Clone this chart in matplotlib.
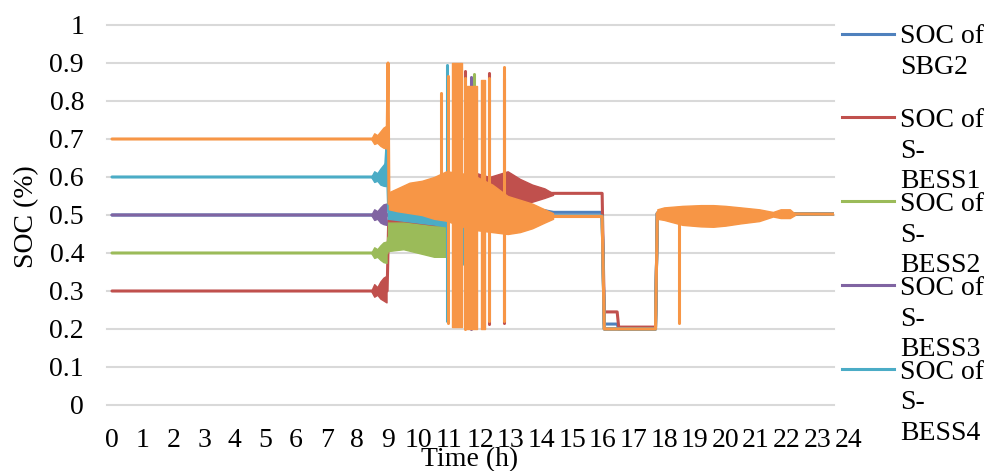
import matplotlib
matplotlib.use("Agg")
import matplotlib.pyplot as plt
from matplotlib.lines import Line2D
from matplotlib.transforms import blended_transform_factory

plt.rcParams['font.family'] = ['Liberation Serif', 'DejaVu Serif']
FONT_SIZE = 20

# ---------------------------------------------------------------- axis data
hours = list(range(25))
y_ticks = [0, 0.1, 0.2, 0.3, 0.4, 0.5, 0.6, 0.7, 0.8, 0.9, 1.0]
y_tick_labels = ['0', '0.1', '0.2', '0.3', '0.4', '0.5', '0.6', '0.7', '0.8', '0.9', '1']
x_label = 'Time (h)'
y_label = 'SOC (%)'

series_names = ['SOC of SBG2', 'SOC of S-BESS1', 'SOC of S-BESS2',
                'SOC of S-BESS3', 'SOC of S-BESS4', 'SOC of S-BESS5']
legend_lines = [['SOC of', 'SBG2'],
                ['SOC of', 'S-', 'BESS1'],
                ['SOC of', 'S-', 'BESS2'],
                ['SOC of', 'S-', 'BESS3'],
                ['SOC of', 'S-', 'BESS4']]
colors = ['#4F81BD', '#C0504D', '#9BBB59', '#8064A2', '#4BACC6', '#F79646']

# ------------------------------------------------------- SOC traces (hours)
# SBG2
sbg2_t = [0, 8.95, 9.02, 14.38, 15.98, 16.05, 16.47, 16.52, 17.72, 17.78, 24]
sbg2_v = [0.5, 0.5, 0.5, 0.507, 0.507, 0.213, 0.213, 0.2, 0.2, 0.505, 0.502]
sbg2_band_t = [12.9, 13.3, 13.7, 14.1, 14.38]
sbg2_band_hi = [0.53, 0.525, 0.52, 0.515, 0.51]
sbg2_band_lo = [0.49, 0.495, 0.5, 0.5, 0.505]

# S-BESS1
bess1_t = [0, 8.97, 9.02, 11.8, 14.38, 15.98, 16.05, 16.47, 16.52, 17.72, 17.78, 24]
bess1_v = [0.3, 0.3, 0.485, 0.55, 0.557, 0.557, 0.245, 0.245, 0.205, 0.205, 0.505, 0.502]
bess1_bump_t = [8.45, 8.55, 8.65, 8.75, 8.85, 8.95]
bess1_bump_hi = [0.3, 0.318, 0.31, 0.325, 0.335, 0.34]
bess1_bump_lo = [0.3, 0.285, 0.29, 0.28, 0.275, 0.27]
bess1_band_t = [9.0, 9.5, 10.0, 10.5, 10.9]
bess1_band_hi = [0.5, 0.5, 0.5, 0.495, 0.49]
bess1_band_lo = [0.47, 0.47, 0.47, 0.47, 0.465]
bess1_band2_t = [11.5, 11.9, 12.3, 12.9, 13.3, 13.7, 14.1, 14.38]
bess1_band2_hi = [0.58, 0.61, 0.6, 0.615, 0.595, 0.58, 0.57, 0.557]
bess1_band2_lo = [0.5, 0.5, 0.51, 0.52, 0.53, 0.535, 0.545, 0.553]
bess1_spike_t = [11.52, 12.3, 12.77]
bess1_spike_hi = [0.878, 0.873, 0.86]
bess1_spike_lo = [0.21, 0.213, 0.216]

# S-BESS2
bess2_t = [0, 8.97, 9.02, 10.9, 11.0, 14.38, 15.98, 16.05, 17.72, 17.78, 24]
bess2_v = [0.4, 0.4, 0.44, 0.43, 0.5, 0.497, 0.497, 0.2, 0.2, 0.505, 0.502]
bess2_bump_t = [8.45, 8.55, 8.65, 8.75, 8.85, 8.95]
bess2_bump_hi = [0.4, 0.415, 0.41, 0.42, 0.428, 0.43]
bess2_bump_lo = [0.4, 0.387, 0.39, 0.382, 0.376, 0.374]
bess2_band_t = [9.0, 9.5, 10.0, 10.5, 10.9]
bess2_band_hi = [0.48, 0.48, 0.475, 0.47, 0.47]
bess2_band_lo = [0.405, 0.41, 0.4, 0.39, 0.39]
bess2_spike_t = [11.2, 11.8]
bess2_spike_hi = [0.895, 0.87]
bess2_spike_lo = [0.21, 0.205]

# S-BESS3
bess3_t = [0, 8.97, 9.02, 14.38, 15.98, 16.05, 17.72, 17.78, 24]
bess3_v = [0.5, 0.5, 0.5, 0.497, 0.497, 0.2, 0.2, 0.505, 0.502]
bess3_bump_t = [8.45, 8.55, 8.65, 8.75, 8.85, 8.95]
bess3_bump_hi = [0.5, 0.515, 0.51, 0.52, 0.528, 0.53]
bess3_bump_lo = [0.5, 0.487, 0.49, 0.48, 0.476, 0.474]
bess3_spike_t = [11.7]
bess3_spike_hi = [0.862]
bess3_spike_lo = [0.2]

# S-BESS4
bess4_t = [0, 8.9, 8.96, 9.02, 10.9, 11.0, 14.38, 15.98, 16.05, 17.72, 17.78, 24]
bess4_v = [0.6, 0.6, 0.68, 0.51, 0.49, 0.5, 0.497, 0.497, 0.2, 0.2, 0.505, 0.502]
bess4_bump_t = [8.45, 8.55, 8.65, 8.75, 8.85, 8.93]
bess4_bump_hi = [0.6, 0.615, 0.61, 0.622, 0.632, 0.64]
bess4_bump_lo = [0.6, 0.587, 0.59, 0.58, 0.577, 0.576]
bess4_band_t = [9.0, 9.5, 10.0, 10.5, 10.9]
bess4_band_hi = [0.525, 0.52, 0.515, 0.51, 0.5]
bess4_band_lo = [0.49, 0.485, 0.48, 0.475, 0.47]
bess4_spike_t = [10.93, 11.42]
bess4_spike_hi = [0.895, 0.5]
bess4_spike_lo = [0.22, 0.37]

# S-BESS5
bess5_t = [0, 8.97, 9.0, 9.03, 14.38, 15.98, 16.05, 17.72, 17.78, 24]
bess5_v = [0.7, 0.7, 0.9, 0.53, 0.496, 0.496, 0.2, 0.2, 0.505, 0.502]
bess5_bump_t = [8.45, 8.55, 8.65, 8.75, 8.85, 8.95]
bess5_bump_hi = [0.7, 0.715, 0.71, 0.72, 0.73, 0.735]
bess5_bump_lo = [0.7, 0.687, 0.69, 0.682, 0.677, 0.675]
bess5_band_t = [9.03, 9.3, 9.7, 10.1, 10.5, 10.9, 11.4, 11.9, 12.4, 12.9, 13.3, 13.7, 14.1, 14.38]
bess5_band_hi = [0.56, 0.57, 0.585, 0.59, 0.6, 0.615, 0.61, 0.6, 0.58, 0.55, 0.54, 0.53, 0.515, 0.505]
bess5_band_lo = [0.515, 0.51, 0.505, 0.5, 0.49, 0.485, 0.47, 0.46, 0.455, 0.45, 0.455, 0.465, 0.48, 0.49]
bess5_band2_t = [17.78, 18.0, 18.6, 19.2, 19.6, 20.0, 20.5, 21.1, 21.55, 21.8, 22.1, 22.27]
bess5_band2_hi = [0.515, 0.52, 0.524, 0.526, 0.526, 0.524, 0.52, 0.515, 0.508, 0.515, 0.515, 0.503]
bess5_band2_lo = [0.49, 0.487, 0.474, 0.47, 0.469, 0.472, 0.478, 0.484, 0.496, 0.492, 0.492, 0.5]
bess5_spike_t = [10.73, 10.95, 11.52, 12.3, 12.77, 18.49]
bess5_spike_hi = [0.82, 0.865, 0.86, 0.86, 0.89, 0.5]
bess5_spike_lo = [0.5, 0.215, 0.2, 0.222, 0.222, 0.215]
bess5_block_t0 = [11.08, 11.55, 12.03]
bess5_block_t1 = [11.42, 11.9, 12.16]
bess5_block_hi = [0.9, 0.84, 0.855]
bess5_block_lo = [0.205, 0.2, 0.2]

# ------------------------------------------------------------------ layout
W, H = 991, 471
fig = plt.figure(figsize=(W / 100, H / 100), dpi=100)


def fx(px):
    return px / W


def fy(py):
    return 1 - py / H


AX_L, AX_R, AX_T, AX_B = 107, 834, 25, 405
ax = fig.add_axes([fx(AX_L), fy(AX_B), (AX_R - AX_L) / W, (AX_B - AX_T) / H])
ax.set_xlim(-0.163, 23.54)
ax.set_ylim(0, 1)
for s in ax.spines.values():
    s.set_visible(False)
ax.set_yticks(y_ticks)
ax.set_yticklabels(y_tick_labels, fontsize=FONT_SIZE)
ax.set_xticks([])
ax.tick_params(axis='y', length=0, pad=16.5)
ax.yaxis.grid(True, color='#D9D9D9', linewidth=1.5)
for gl in ax.get_ygridlines():
    gl.set_clip_on(False)
ax.set_axisbelow(True)

LW = 2.2


def draw_band(t, hi, lo, color):
    ax.fill_between(t, lo, hi, color=color, linewidth=1.0, edgecolor=color, zorder=2)


def draw_spikes(t, hi, lo, color):
    ax.vlines(t, lo, hi, color=color, linewidth=LW, capstyle='round', zorder=2)


def draw_line(t, v, color):
    ax.plot(t, v, color=color, linewidth=LW, solid_joinstyle='round',
            solid_capstyle='round', zorder=2)


# SBG2
c = colors[0]
draw_band(sbg2_band_t, sbg2_band_hi, sbg2_band_lo, c)
draw_line(sbg2_t, sbg2_v, c)

# S-BESS1
c = colors[1]
draw_band(bess1_bump_t, bess1_bump_hi, bess1_bump_lo, c)
draw_band(bess1_band_t, bess1_band_hi, bess1_band_lo, c)
draw_band(bess1_band2_t, bess1_band2_hi, bess1_band2_lo, c)
draw_spikes(bess1_spike_t, bess1_spike_hi, bess1_spike_lo, c)
draw_line(bess1_t, bess1_v, c)

# S-BESS2
c = colors[2]
draw_band(bess2_bump_t, bess2_bump_hi, bess2_bump_lo, c)
draw_band(bess2_band_t, bess2_band_hi, bess2_band_lo, c)
draw_spikes(bess2_spike_t, bess2_spike_hi, bess2_spike_lo, c)
draw_line(bess2_t, bess2_v, c)

# S-BESS3
c = colors[3]
draw_band(bess3_bump_t, bess3_bump_hi, bess3_bump_lo, c)
draw_spikes(bess3_spike_t, bess3_spike_hi, bess3_spike_lo, c)
draw_line(bess3_t, bess3_v, c)

# S-BESS4
c = colors[4]
draw_band(bess4_bump_t, bess4_bump_hi, bess4_bump_lo, c)
draw_band(bess4_band_t, bess4_band_hi, bess4_band_lo, c)
draw_spikes(bess4_spike_t, bess4_spike_hi, bess4_spike_lo, c)
draw_line(bess4_t, bess4_v, c)

# S-BESS5
c = colors[5]
draw_band(bess5_bump_t, bess5_bump_hi, bess5_bump_lo, c)
draw_band(bess5_band_t, bess5_band_hi, bess5_band_lo, c)
draw_band(bess5_band2_t, bess5_band2_hi, bess5_band2_lo, c)
for t0, t1, hi, lo in zip(bess5_block_t0, bess5_block_t1, bess5_block_hi, bess5_block_lo):
    draw_band([t0, t1], [hi, hi], [lo, lo], c)
draw_spikes(bess5_spike_t, bess5_spike_hi, bess5_spike_lo, c)
draw_line(bess5_t, bess5_v, c)

# hour labels along the bottom
xtrans = blended_transform_factory(ax.transData, ax.transAxes)
label_y = (AX_B - 447) / (AX_B - AX_T)
for h in hours:
    ax.text(h, label_y, str(h), transform=xtrans, ha='center', va='baseline',
            fontsize=FONT_SIZE, clip_on=False)

fig.text(fx(470), fy(466), x_label, ha='center', va='baseline', fontsize=FONT_SIZE)
fig.text(fx(27), fy(217), y_label, rotation=90, ha='center', va='center',
         fontsize=FONT_SIZE)

# legend
for i, lines in enumerate(legend_lines):
    ym = 33.5 + 83.9 * i
    fig.add_artist(Line2D([fx(842), fx(894)], [fy(ym), fy(ym)], color=colors[i],
                          linewidth=LW, transform=fig.transFigure))
    for k, txt in enumerate(lines):
        fig.text(fx(900), fy(ym + 9.5 + 30.8 * k), txt, ha='left', va='baseline',
                 fontsize=FONT_SIZE)

fig.savefig('out.png', dpi=100)
